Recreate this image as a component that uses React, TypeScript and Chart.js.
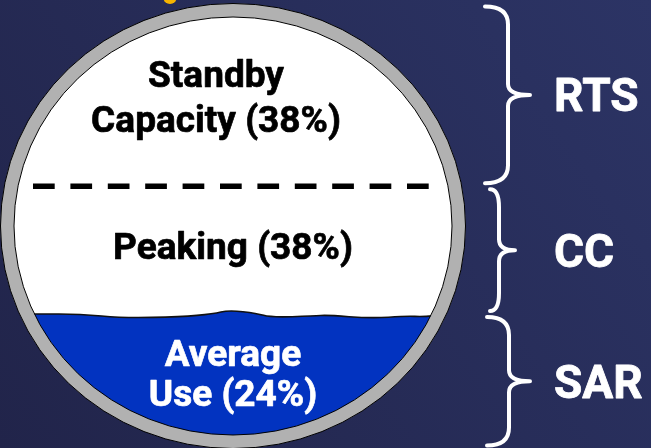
import React, { useEffect, useRef } from "react";
import { Chart, registerables } from "chart.js";

Chart.register(...registerables);

// ---- data (bottom of the tank to the top) ----
const segmentNames = ["Average Use", "Peaking", "Standby Capacity"];
const segmentShares = [24, 38, 38];
const segmentLines = [["Average", "Use"], ["Peaking"], ["Standby", "Capacity"]];
const groupLabels = ["SAR", "CC", "RTS"];

// ---- styles ----
const W = 651;
const H = 448;
const RING = 13.5;
const BLUE = "#0233c0";
const GREY = "#b1b1b1";
const LABEL_SIZE = 37;
const GROUP_SIZE = 46;
const TEXT_COLORS = ["#ffffff", "#000000", "#000000"];
const TEXT_DX = [0, 0, -17];
const TEXT_DY = [-2, -4, -5];
const LINE_GAP = [40, 42, 45];
const BRACES = [
  { x0: 487, xm: 509, xt: 530 },
  { x0: 490, xm: 499, xt: 515 },
  { x0: 485, xm: 508, xt: 530 },
];
// decorative wave on the water surface (x in tank units, dy in px)
const WAVE_U = [-1.08, -0.89, -0.7, -0.5, -0.24, -0.09, -0.02, 0.11, 0.17, 0.37, 0.43, 0.63, 0.79, 0.87, 0.95, 1.08];
const WAVE_DY = [0, 0, 0, 4, 2.7, 0, -4, -0.7, 3.3, 2, 1, 4.3, 2, 2.7, 1, 1];

// fraction of a circle's area below a level -> level height in % of diameter
function heightPctFromArea(f: number): number {
  let lo = 0;
  let hi = 2;
  for (let i = 0; i < 60; i++) {
    const m = (lo + hi) / 2;
    const a = (Math.acos(1 - m) - (1 - m) * Math.sqrt(Math.max(0, 2 * m - m * m))) / Math.PI;
    if (a < f) lo = m;
    else hi = m;
  }
  return ((lo + hi) / 2) * 50;
}

const cumulative: number[] = [0];
segmentShares.forEach((s, i) => cumulative.push(cumulative[i] + s));
const levels = cumulative.map((c) => heightPctFromArea(c / 100));

const tankPlugin = {
  id: "tank",
  beforeDraw(chart: any) {
    const ctx = chart.ctx;
    ctx.save();
    const g = ctx.createLinearGradient(W, 0, 0, H);
    g.addColorStop(0, "#2c3465");
    g.addColorStop(1, "#21244a");
    ctx.fillStyle = g;
    ctx.fillRect(0, 0, W, H);
    ctx.restore();
  },
  afterDraw(chart: any) {
    const ctx = chart.ctx;
    const xs = chart.scales.x;
    const ys = chart.scales.y;
    const cx = xs.getPixelForValue(0);
    const rx = xs.getPixelForValue(1) - cx;
    const cy = ys.getPixelForValue(50);
    const ry = ys.getPixelForValue(0) - cy;
    ctx.save();

    // yellow remnant of a title above
    ctx.fillStyle = "#f6b400";
    ctx.beginPath();
    ctx.ellipse(170, -2, 6.5, 6, 0, 0, Math.PI * 2);
    ctx.fill();

    // ring
    ctx.beginPath();
    ctx.ellipse(cx, cy, rx + RING, ry + RING, 0, 0, Math.PI * 2);
    ctx.fillStyle = GREY;
    ctx.fill();
    ctx.lineWidth = 1;
    ctx.strokeStyle = "#000";
    ctx.stroke();

    // inside
    ctx.beginPath();
    ctx.ellipse(cx, cy, rx, ry, 0, 0, Math.PI * 2);
    ctx.fillStyle = "#ffffff";
    ctx.fill();

    // water
    const waterY = ys.getPixelForValue(levels[1]);
    ctx.save();
    ctx.beginPath();
    ctx.ellipse(cx, cy, rx, ry, 0, 0, Math.PI * 2);
    ctx.clip();
    const pts = WAVE_U.map((u, i) => [xs.getPixelForValue(u), waterY + WAVE_DY[i]]);
    const wavePath = () => {
      ctx.moveTo(pts[0][0], pts[0][1]);
      for (let i = 1; i < pts.length - 1; i++) {
        const mx = (pts[i][0] + pts[i + 1][0]) / 2;
        const my = (pts[i][1] + pts[i + 1][1]) / 2;
        ctx.quadraticCurveTo(pts[i][0], pts[i][1], mx, my);
      }
      const last = pts[pts.length - 1];
      ctx.lineTo(last[0], last[1]);
    };
    ctx.beginPath();
    wavePath();
    ctx.lineTo(pts[pts.length - 1][0], cy + ry + 20);
    ctx.lineTo(pts[0][0], cy + ry + 20);
    ctx.closePath();
    ctx.fillStyle = BLUE;
    ctx.fill();
    ctx.beginPath();
    wavePath();
    ctx.lineWidth = 1.6;
    ctx.strokeStyle = "#111";
    ctx.stroke();
    ctx.restore();

    // inner outline
    ctx.beginPath();
    ctx.ellipse(cx, cy, rx, ry, 0, 0, Math.PI * 2);
    ctx.lineWidth = 1;
    ctx.strokeStyle = "#000";
    ctx.stroke();

    // dashed boundary between peaking and standby
    const dashY = ys.getPixelForValue(levels[2]);
    ctx.beginPath();
    ctx.setLineDash([21.7, 15.7]);
    ctx.moveTo(cx - 200, dashY);
    ctx.lineTo(cx + 196, dashY);
    ctx.lineWidth = 5.5;
    ctx.strokeStyle = "#000";
    ctx.stroke();
    ctx.setLineDash([]);

    // segment labels
    ctx.font = `bold ${LABEL_SIZE}px Roboto`;
    ctx.textAlign = "center";
    ctx.textBaseline = "alphabetic";
    ctx.lineJoin = "round";
    const cap = 0.711 * LABEL_SIZE;
    segmentNames.forEach((name, i) => {
      const yTop = ys.getPixelForValue(levels[i + 1]);
      const yBot = ys.getPixelForValue(levels[i]);
      const yc = (yTop + yBot) / 2 + TEXT_DY[i];
      const lines = segmentLines[i].slice();
      lines[lines.length - 1] = `${lines[lines.length - 1]} (${segmentShares[i]}%)`;
      const n = lines.length;
      ctx.fillStyle = TEXT_COLORS[i];
      ctx.strokeStyle = TEXT_COLORS[i];
      ctx.lineWidth = 0.7;
      lines.forEach((t, k) => {
        const y = yc + cap / 2 + (k - (n - 1) / 2) * LINE_GAP[i];
        ctx.fillText(t, cx + TEXT_DX[i], y);
        ctx.strokeText(t, cx + TEXT_DX[i], y);
      });
    });

    // braces and group labels
    const outerTop = ys.getPixelForValue(100) - RING;
    const outerBot = ys.getPixelForValue(0) + RING;
    groupLabels.forEach((lab, i) => {
      const top = i === 2 ? outerTop : ys.getPixelForValue(levels[i + 1]);
      const bot = i === 0 ? outerBot : ys.getPixelForValue(levels[i]);
      const y1 = top + 3;
      const y2 = bot - 3;
      const ym = (y1 + y2) / 2;
      const b = BRACES[i];
      const r = 18;
      const r2 = 11;
      ctx.beginPath();
      ctx.moveTo(b.x0, y1);
      ctx.quadraticCurveTo(b.xm, y1, b.xm, y1 + r);
      ctx.lineTo(b.xm, ym - r2);
      ctx.quadraticCurveTo(b.xm, ym, b.xt, ym);
      ctx.moveTo(b.xt, ym);
      ctx.quadraticCurveTo(b.xm, ym, b.xm, ym + r2);
      ctx.lineTo(b.xm, y2 - r);
      ctx.quadraticCurveTo(b.xm, y2, b.x0, y2);
      ctx.lineWidth = 4;
      ctx.lineCap = "round";
      ctx.strokeStyle = "#ffffff";
      ctx.stroke();

      ctx.font = `bold ${GROUP_SIZE}px Roboto`;
      ctx.textAlign = "left";
      ctx.fillStyle = "#ffffff";
      ctx.lineWidth = 0.8;
      const ty = ym + (0.711 * GROUP_SIZE) / 2;
      ctx.fillText(lab, 554, ty);
      ctx.strokeText(lab, 554, ty);
    });

    ctx.restore();
  },
};

export default function App() {
  const ref = useRef<HTMLCanvasElement | null>(null);
  useEffect(() => {
    if (!ref.current) return;
    const chart = new Chart(ref.current, {
      type: "scatter",
      data: { datasets: [] },
      options: {
        animation: false,
        responsive: false,
        maintainAspectRatio: false,
        layout: { padding: { left: 14, right: W - 452, top: 17, bottom: H - 435 } },
        scales: {
          x: { type: "linear", min: -1, max: 1, display: false },
          y: { type: "linear", min: 0, max: 100, display: false },
        },
        plugins: { legend: { display: false }, tooltip: { enabled: false }, title: { display: false } },
      },
      plugins: [tankPlugin],
    } as any);
    return () => chart.destroy();
  }, []);
  return (
    <div style={{ position: "absolute", left: 0, top: 0, width: W, height: H }}>
      <canvas ref={ref} width={W} height={H} style={{ display: "block" }} />
    </div>
  );
}
